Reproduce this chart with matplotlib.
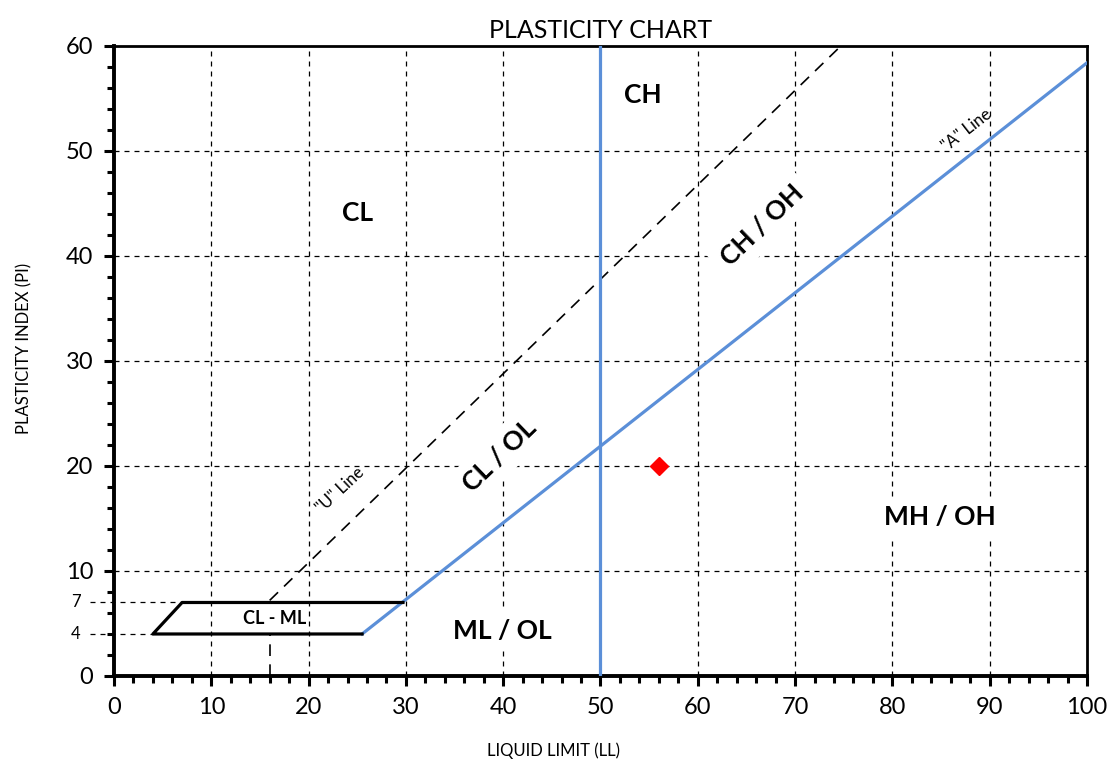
import numpy as np
import matplotlib
matplotlib.use("Agg")
import matplotlib.pyplot as plt
from matplotlib.ticker import MultipleLocator

plt.rcParams['font.family'] = ['Lato', 'DejaVu Sans']

# ---------------------------
# DATA
# ---------------------------
a_line_ll = [25.5, 100]
a_line_pi = [4, 58.4]

u_line_ll = [16, 74.7]
u_line_pi = [7.2, 60]
u_vert_ll = [16, 16]
u_vert_pi = [0, 4]

clml_ll = [25.5, 4, 7, 29.7]
clml_pi = [4, 4, 7, 7]

ll_limit = 50
sample_ll = [56]
sample_pi = [20]

x_ticks = list(range(0, 101, 10))
y_ticks = list(range(0, 61, 10))
extra_pi = [4, 7]

# ---------------------------
# PLOT
# ---------------------------
fig = plt.figure(figsize=(11.11, 7.64), dpi=100)
ax = fig.add_axes([0.1026, 0.1152, 0.8758, 0.8246])

ax.set_xlim(0, 100)
ax.set_ylim(0, 60)

# grid
for x in x_ticks[1:-1]:
    ax.axvline(x, color="black", lw=0.9, ls=(0, (4, 4)), zorder=1)
for y in y_ticks[1:-1]:
    ax.axhline(y, color="black", lw=0.9, ls=(0, (4, 4)), zorder=1)

# lines
blue = "#5B8FD8"
ax.plot(a_line_ll, a_line_pi, color=blue, lw=2.3, zorder=4)
ax.axvline(ll_limit, color=blue, lw=2.3, zorder=4)
ax.plot(u_line_ll, u_line_pi, color="black", lw=1.2, ls=(0, (7, 5)), zorder=3)
ax.plot(u_vert_ll, u_vert_pi, color="black", lw=1.2, ls=(0, (7, 5)), zorder=3)
ax.plot(clml_ll, clml_pi, color="black", lw=2.3, zorder=4)

# extra 4 / 7 markers
for p, x_end in zip(extra_pi, [clml_ll[1], clml_ll[2]]):
    ax.plot([-2.5, x_end], [p, p], color="black", lw=0.9, ls=(0, (4, 4)),
            clip_on=False, zorder=1)
    ax.text(-3.9, p, str(p), ha="center", va="center", fontsize=12)

ax.plot(sample_ll, sample_pi, marker="D", color="red", ms=9, ls="none", zorder=5)

# labels
box = dict(facecolor="white", edgecolor="none", pad=6)
ax.text(25.0, 44.1, "CL", fontsize=19, fontweight="bold", ha="center", va="center")
ax.text(54.4, 55.3, "CH", fontsize=19, fontweight="bold", ha="center", va="center")
ax.text(66.6, 42.9, "CH / OH", fontsize=19, fontweight="bold", ha="center",
        va="center", rotation=44, bbox=box, zorder=2)
ax.text(39.6, 21.0, "CL / OL", fontsize=19, fontweight="bold", ha="center",
        va="center", rotation=44, bbox=box, zorder=2)
ax.text(84.9, 15.1, "MH / OH", fontsize=19, fontweight="bold", ha="center",
        va="center", bbox=box, zorder=2)
ax.text(39.9, 4.3, "ML / OL", fontsize=19, fontweight="bold", ha="center",
        va="center", bbox=box, zorder=2)
ax.text(16.5, 5.5, "CL - ML", fontsize=13, fontweight="bold", ha="center",
        va="center", zorder=5)
ax.text(23.3, 17.7, '"U" Line', fontsize=12, ha="center", va="center", rotation=43)
ax.text(87.6, 52.0, '"A" Line', fontsize=12, ha="center", va="center", rotation=38)

# axes styling
ax.set_xticks(x_ticks)
ax.set_yticks(y_ticks)
ax.xaxis.set_minor_locator(MultipleLocator(2))
ax.yaxis.set_minor_locator(MultipleLocator(2))
ax.tick_params(which="major", direction="out", length=7, width=2.2, labelsize=17, pad=8)
ax.tick_params(which="minor", direction="out", length=5, width=2.2)
ax.spines["left"].set_linewidth(2.8)
ax.spines["bottom"].set_linewidth(2.8)
ax.spines["top"].set_linewidth(2.0)
ax.spines["right"].set_linewidth(2.0)

ax.set_title("PLASTICITY CHART", fontsize=18, pad=6)
ax.set_xlabel("LIQUID LIMIT (LL)", fontsize=12)
ax.xaxis.set_label_coords(0.452, -0.105)
ax.set_ylabel("PLASTICITY INDEX (PI)", fontsize=12)
ax.yaxis.set_label_coords(-0.084, 0.52)

fig.savefig("out.png", dpi=100)
